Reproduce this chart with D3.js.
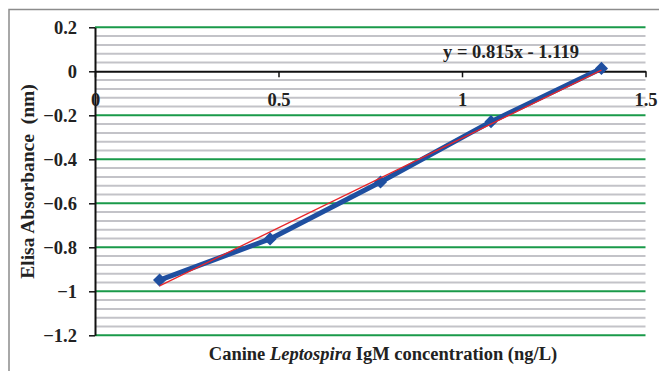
<!DOCTYPE html>
<html lang="en">
<head>
<meta charset="UTF-8">
<title>Elisa standard curve</title>
<style>
  body { margin: 0; background: #fff; }
  svg text { font-family: "Liberation Serif", "Times New Roman", serif; font-weight: bold; fill: #222; }
</style>
</head>
<body>
<script src="https://cdn.jsdelivr.net/npm/d3@7"></script>
<script>
const width = 659;
const height = 371;

// data (log concentration vs absorbance)
const concLog = [0.176, 0.477, 0.778, 1.079, 1.380];
const absorbance = [-0.949, -0.762, -0.503, -0.229, 0.013];
const trend = [0.815, -1.119]; // slope, intercept
const xTicks = [0, 0.5, 1, 1.5];
const yTicks = [0.2, 0, -0.2, -0.4, -0.6, -0.8, -1, -1.2];

const margin = { left: 95, right: 13.5, top: 27.3, bottom: 35.7 };

const svg = d3.select('body').append('svg')
  .attr('width', width)
  .attr('height', height);

// outer frame of the chart
svg.append('rect')
  .attr('x', 9).attr('y', 9.5)
  .attr('width', width + 20).attr('height', height + 20)
  .attr('fill', 'none')
  .attr('stroke', '#8c8c8c')
  .attr('stroke-width', 1.5);

const x = d3.scaleLinear().domain([0, 1.5]).range([margin.left, width - margin.right]);
const y = d3.scaleLinear().domain([-1.2, 0.2]).range([height - margin.bottom, margin.top]);

// minor grid (gray) every 0.04
const minor = d3.range(0, 36).map(i => +(0.2 - i * 0.04).toFixed(2))
  .filter(v => !yTicks.includes(v));
svg.append('g').selectAll('line')
  .data(minor)
  .enter().append('line')
  .attr('x1', x(0)).attr('x2', x(1.5))
  .attr('y1', d => y(d)).attr('y2', d => y(d))
  .attr('stroke', '#c3c3c8')
  .attr('stroke-width', 2);

// major grid (green)
svg.append('g').selectAll('line')
  .data(yTicks.filter(v => v !== 0))
  .enter().append('line')
  .attr('x1', x(0)).attr('x2', x(1.5))
  .attr('y1', d => y(d)).attr('y2', d => y(d))
  .attr('stroke', '#1a9a4a')
  .attr('stroke-width', 2);

// y axis
const yAxis = svg.append('g')
  .attr('transform', 'translate(' + x(0) + ',0)')
  .call(d3.axisLeft(y).tickValues(yTicks).tickSize(6).tickSizeOuter(0)
    .tickFormat(d => d3.format('')(d)));
yAxis.select('.domain').attr('stroke', '#111').attr('stroke-width', 2);
yAxis.selectAll('.tick line').attr('stroke', '#111').attr('stroke-width', 1.5);
yAxis.selectAll('.tick text')
  .attr('x', -18)
  .style('font-size', '18.5px')
  .style('font-family', '"Liberation Serif", serif')
  .style('font-weight', 'bold')
  .attr('fill', '#222');

// x axis across y = 0
const xAxis = svg.append('g')
  .attr('transform', 'translate(0,' + y(0) + ')')
  .call(d3.axisBottom(x).tickValues(xTicks).tickSize(6).tickSizeOuter(0)
    .tickFormat(d => d3.format('')(d)));
xAxis.select('.domain').attr('stroke', '#111').attr('stroke-width', 2);
xAxis.selectAll('.tick line').attr('stroke', '#111').attr('stroke-width', 1.5);
xAxis.selectAll('.tick text')
  .attr('y', 35)
  .attr('dy', 0)
  .style('font-size', '18.5px')
  .style('font-family', '"Liberation Serif", serif')
  .style('font-weight', 'bold')
  .attr('fill', '#222');

// data line
const points = concLog.map((c, i) => [c, absorbance[i]]);
const line = d3.line().x(d => x(d[0])).y(d => y(d[1]));

svg.append('path')
  .datum(points)
  .attr('d', line)
  .attr('fill', 'none')
  .attr('stroke', '#1f4fa0')
  .attr('stroke-width', 5)
  .attr('stroke-linejoin', 'round');

svg.append('g').selectAll('path')
  .data(points)
  .enter().append('path')
  .attr('transform', d => 'translate(' + x(d[0]) + ',' + y(d[1]) + ')')
  .attr('d', d3.symbol().type(d3.symbolDiamond2).size(110))
  .attr('fill', '#1f4fa0');

// linear trend line
const xExt = d3.extent(concLog);
svg.append('path')
  .datum(xExt.map(v => [v, trend[0] * v + trend[1]]))
  .attr('d', line)
  .attr('fill', 'none')
  .attr('stroke', '#e8262b')
  .attr('stroke-width', 1.3);

// equation label
svg.append('text')
  .attr('x', 511).attr('y', 58)
  .attr('text-anchor', 'middle')
  .style('font-size', '18.5px')
  .text('y = ' + trend[0] + 'x - ' + Math.abs(trend[1]));

// axis titles
svg.append('text')
  .attr('transform', 'translate(34,' + 181.5 + ') rotate(-90)')
  .attr('text-anchor', 'middle')
  .style('font-size', '19.5px')
  .style('white-space', 'pre')
  .text('Elisa Absorbance  (nm)');

const xt = svg.append('text')
  .attr('x', 383)
  .attr('y', 360)
  .attr('text-anchor', 'middle')
  .style('font-size', '18.5px');
xt.append('tspan').text('Canine ');
xt.append('tspan').style('font-style', 'italic').text('Leptospira');
xt.append('tspan').text(' IgM concentration (ng/L)');
</script>
</body>
</html>
